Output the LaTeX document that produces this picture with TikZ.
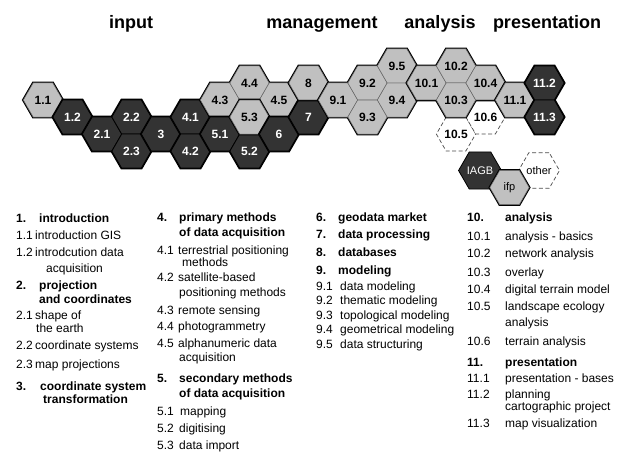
\documentclass[tikz,border=0pt]{standalone}
\usepackage{fontspec}
\setmainfont{Liberation Sans}
\usetikzlibrary{shapes.geometric}
\definecolor{cellgrey}{RGB}{192,192,192}
\definecolor{celldark}{RGB}{51,51,51}
\tikzset{
  hex/.style={regular polygon, regular polygon sides=6, minimum size=39.3pt,
    inner sep=0pt, font=\bfseries\fontsize{12}{12}\selectfont},
  rimcell/.style={hex, draw=black, line width=2.6pt},
  lightcell/.style={hex, fill=cellgrey, draw=black!60, line width=0.5pt},
  darkcell/.style={hex, fill=celldark, draw=black, line width=0.8pt, text=white},
  opencell/.style={hex, fill=white, draw=black!70, line width=0.7pt,
    dash pattern=on 4pt off 2.5pt},
  topic/.style={anchor=mid, inner sep=0pt, yshift=-3.5pt,
    font=\bfseries\fontsize{18}{18}\selectfont},
  entry/.style={anchor=mid west, inner sep=0pt, yshift=-1.5pt,
    font=\fontsize{12}{12}\selectfont},
  headentry/.style={entry, font=\bfseries\fontsize{12}{12}\selectfont},
}
% one group of cells: thick rim first, then the cells on top
\newcommand\cellgroup[2]{%
  \foreach \cx/\ky/\lab/\nm in {#2}
    \node[rimcell] (r\nm) at ({43+29.5*\cx},{100+17.03*\ky}) {};
  \foreach \cx/\ky/\lab/\nm in {#2}
    \node[#1] (\nm) at ({43+29.5*\cx},{100+17.03*\ky}) {\lab};
}
\begin{document}
\begin{tikzpicture}[x=1pt,y=-1pt]
  \path[use as bounding box, fill=white] (0,0) rectangle (620,452);

  % headings
  \node[topic] (input) at (131,22.5) {input};
  \node[topic] (management) at (322,22.5) {management};
  \node[topic] (analysis) at (440,22.5) {analysis};
  \node[topic] (presentation) at (547,22.5) {presentation};

  % open cells
  \node[opencell] (h105) at ({43+29.5*14},{100+17.03*2}) {10.5};
  \node[opencell] (h106) at ({43+29.5*15},{100+17.03*1}) {10.6};
  \node[opencell, font=\fontsize{11}{11}\selectfont] (other) at (539,170.5) {other};

  % cells
  \cellgroup{lightcell}{0/0/1.1/h11}
  \cellgroup{darkcell}{1/1/1.2/h12}
  \cellgroup{darkcell}{2/2/2.1/h21, 3/1/2.2/h22, 3/3/2.3/h23}
  \cellgroup{darkcell}{4/2/3/h3}
  \cellgroup{darkcell}{5/1/4.1/h41, 5/3/4.2/h42}
  \cellgroup{lightcell}{6/0/4.3/h43, 7/-1/4.4/h44, 8/0/4.5/h45}
  \cellgroup{darkcell}{6/2/5.1/h51, 7/3/5.2/h52}
  \cellgroup{lightcell}{7/1/5.3/h53}
  \cellgroup{darkcell}{8/2/6/h6}
  \cellgroup{darkcell}{9/1/7/h7}
  \cellgroup{lightcell}{9/-1/8/h8}
  \cellgroup{lightcell}{10/0/9.1/h91, 11/-1/9.2/h92, 11/1/9.3/h93, 12/0/9.4/h94, 12/-2/9.5/h95}
  \cellgroup{lightcell}{13/-1/10.1/h101, 14/-2/10.2/h102, 14/0/10.3/h103, 15/-1/10.4/h104}
  \cellgroup{lightcell}{16/0/11.1/h111}
  \cellgroup{darkcell}{17/-1/11.2/h112, 17/1/11.3/h113}

  % legend
  \node[rimcell] (riagb) at (480,170.5) {};
  \node[darkcell, font=\fontsize{11}{11}\selectfont] (iagb) at (480,170.5) {IAGB};
  \node[rimcell] (rifp) at (509.5,187.5) {};
  \node[lightcell, font=\fontsize{11}{11}\selectfont] (ifp) at (509.5,187.5) {ifp};

  % column 1
  \foreach \y/\num/\tx/\txt in {218/1./39/introduction, 285/2./39/projection,
      299//39/and coordinates, 386/3./40/coordinate system, 399//43/transformation}{
    \node[headentry] (an\y) at (16,\y) {\num};
    \node[headentry] (at\y) at (\tx,\y) {\txt};
  }
  \foreach \y/\num/\tx/\txt in {235/1.1/35/introduction GIS, 252/1.2/35/introdcution data,
      268//46/acquisition, 315/2.1/35/shape of, 328//36/the earth,
      345/2.2/35/coordinate systems, 364/2.3/35/map projections}{
    \node[entry] (an\y) at (16,\y) {\num};
    \node[entry] (at\y) at (\tx,\y) {\txt};
  }

  % column 2
  \foreach \y/\num/\tx/\txt in {217/4./179/primary methods, 232//179/of data acquisition,
      378/5./179/secondary methods, 393//179/of data acquisition}{
    \node[headentry] (bn\y) at (157,\y) {\num};
    \node[headentry] (bt\y) at (\tx,\y) {\txt};
  }
  \foreach \y/\num/\tx/\txt in {250/4.1/178/terrestrial positioning, 262//182/methods,
      277/4.2/178/satellite-based, 292//179/positioning methods,
      310/4.3/178/remote sensing, 326/4.4/178/photogrammetry,
      343/4.5/178/alphanumeric data, 357//179/acquisition,
      411/5.1/180/mapping, 428/5.2/179/digitising, 445/5.3/179/data import}{
    \node[entry] (bn\y) at (157,\y) {\num};
    \node[entry] (bt\y) at (\tx,\y) {\txt};
  }

  % column 3
  \foreach \y/\num/\txt in {217/6./geodata market, 234/7./data processing,
      252/8./databases, 270/9./modeling}{
    \node[headentry] (cn\y) at (316,\y) {\num};
    \node[headentry] (ct\y) at (338,\y) {\txt};
  }
  \foreach \y/\num/\txt in {286/9.1/data modeling, 300/9.2/thematic modeling,
      315/9.3/topological modeling, 329/9.4/geometrical modeling, 344/9.5/data structuring}{
    \node[entry] (cn\y) at (316,\y) {\num};
    \node[entry] (ct\y) at (340,\y) {\txt};
  }

  % column 4
  \foreach \y/\num/\txt in {217/10./analysis, 362/11./presentation}{
    \node[headentry] (dn\y) at (467,\y) {\num};
    \node[headentry] (dt\y) at (505,\y) {\txt};
  }
  \foreach \y/\num/\txt in {236/10.1/analysis - basics, 253/10.2/network analysis,
      272/10.3/overlay, 289/10.4/digital terrain model, 306/10.5/landscape ecology,
      322//analysis, 341/10.6/terrain analysis, 378/11.1/presentation - bases,
      394/11.2/planning, 406//cartographic project, 423/11.3/map visualization}{
    \node[entry] (dn\y) at (467,\y) {\num};
    \node[entry] (dt\y) at (505,\y) {\txt};
  }
\end{tikzpicture}
\end{document}
